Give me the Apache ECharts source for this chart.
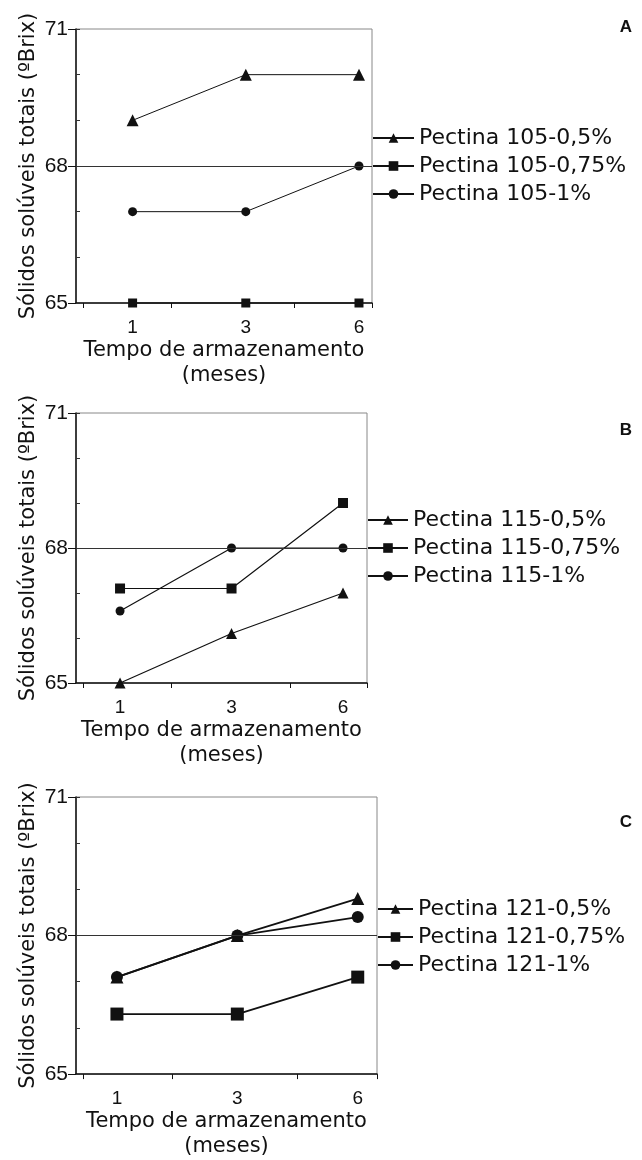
<!DOCTYPE html>
<html>
<head>
<meta charset="utf-8">
<script src="https://cdn.jsdelivr.net/npm/echarts@6/dist/echarts.min.js"></script>
<style>
html, body { margin: 0; padding: 0; background: #fff; }
#chart { width: 642px; height: 1160px; }
</style>
</head>
<body>
<div id="chart"></div>
<script>
// tempo de armazenamento (meses)
var meses = ['1', '3', '6'];
var yTickLabels = [65, 68, 71];
var yName = 'Sólidos solúveis totais (ºBrix)';
var xName = 'Tempo de armazenamento\n(meses)';

// A - pectina 105
var namesA = ['Pectina 105-0,5%', 'Pectina 105-0,75%', 'Pectina 105-1%'];
var a05 = [69.0, 70.0, 70.0];
var a075 = [65.0, 65.0, 65.0];
var a1 = [67.0, 67.0, 68.0];

// B - pectina 115
var namesB = ['Pectina 115-0,5%', 'Pectina 115-0,75%', 'Pectina 115-1%'];
var b05 = [65.0, 66.1, 67.0];
var b075 = [67.1, 67.1, 69.0];
var b1 = [66.6, 68.0, 68.0];

// C - pectina 121
var namesC = ['Pectina 121-0,5%', 'Pectina 121-0,75%', 'Pectina 121-1%'];
var c05 = [67.1, 68.0, 68.8];
var c075 = [66.3, 66.3, 67.1];
var c1 = [67.1, 68.0, 68.4];

var simbolos = ['triangle', 'rect', 'circle'];

// layout de cada painel
var paineis = [
    { letra: 'A', nomes: namesA, valores: [a05, a075, a1],
      grid: { left: 76, top: 29, width: 296, height: 274 },
      xMin: -0.5, xMax: 2.115, xTicks: [-0.434, 0.345, 1.425, 2.115],
      legTop: 127, legW: 41, lw: 1, sizes: [12, 9, 9], letraTop: 19 },
    { letra: 'B', nomes: namesB, valores: [b05, b075, b1],
      grid: { left: 76, top: 413, width: 291, height: 270 },
      xMin: -0.395, xMax: 2.215, xTicks: [-0.33, 0.457, 1.53, 2.215],
      legTop: 509, legW: 40, lw: 1.2, sizes: [11, 10, 9], letraTop: 422 },
    { letra: 'C', nomes: namesC, valores: [c05, c075, c1],
      grid: { left: 76, top: 797, width: 301, height: 278 },
      xMin: -0.34, xMax: 2.16, xTicks: [-0.28, 0.46, 1.5, 2.16],
      legTop: 898, legW: 35, lw: 1.8, sizes: [13, 13, 12], letraTop: 814 }
];

var fonte = 'DejaVu Sans';
var fonteNum = "'Liberation Sans', Arial, sans-serif";
var option = {
    animation: false,
    backgroundColor: '#fff',
    title: [], grid: [], xAxis: [], yAxis: [], legend: [], series: []
};

paineis.forEach(function (p, i) {
    option.title.push({
        text: p.letra, left: 626, top: p.letraTop, textAlign: 'center', padding: 0,
        textStyle: { fontFamily: fonteNum, fontWeight: 'bold', fontSize: 17, color: '#111' }
    });
    option.grid.push({
        left: p.grid.left, top: p.grid.top, width: p.grid.width, height: p.grid.height,
        show: true, borderColor: '#888', borderWidth: 1, backgroundColor: 'transparent'
    });
    option.xAxis.push({
        type: 'value', gridIndex: i, min: p.xMin, max: p.xMax,
        name: xName, nameLocation: 'middle', nameGap: 32,
        nameTextStyle: { fontFamily: fonte, fontSize: 21, lineHeight: 25, color: '#111' },
        axisLine: { onZero: false, lineStyle: { color: '#111', width: 1.5 } },
        axisTick: { customValues: p.xTicks, length: 5, lineStyle: { color: '#111' } },
        axisLabel: {
            customValues: [0, 1, 2], margin: 15,
            fontFamily: fonteNum, fontSize: 19, color: '#111',
            formatter: function (v) { return meses[Math.round(v)]; }
        },
        splitLine: { show: false }
    });
    // eixo com marcas internas
    option.yAxis.push({
        type: 'value', gridIndex: i, min: 65, max: 71, interval: 1,
        position: 'left', offset: 0,
        name: yName, nameLocation: 'middle', nameGap: 37,
        nameTextStyle: { fontFamily: fonte, fontSize: 21, color: '#111' },
        axisLine: { show: true, onZero: false, lineStyle: { color: '#111', width: 1.5 } },
        axisTick: { inside: true, length: 4, lineStyle: { color: '#333' } },
        axisLabel: { show: false },
        splitLine: { show: false }
    });
    // eixo com rotulos
    option.yAxis.push({
        type: 'value', gridIndex: i, min: 65, max: 71,
        position: 'left', offset: 0,
        axisLine: { show: false, onZero: false },
        axisTick: { show: true, customValues: yTickLabels, length: 8, lineStyle: { color: '#111' } },
        axisLabel: {
            customValues: yTickLabels, margin: 8,
            fontFamily: fonteNum, fontSize: 21, color: '#111'
        },
        splitLine: { show: false }
    });
    option.legend.push({
        orient: 'vertical', left: p.grid.left + p.grid.width, top: p.legTop,
        padding: 0, itemGap: 6, itemWidth: p.legW, itemHeight: 12,
        selectedMode: false, data: p.nomes,
        textStyle: { fontFamily: fonte, fontSize: 22, lineHeight: 22, color: '#111' }
    });
    p.valores.forEach(function (vals, k) {
        var s = {
            name: p.nomes[k], type: 'line',
            xAxisIndex: i, yAxisIndex: 2 * i,
            symbol: simbolos[k], symbolSize: p.sizes[k],
            clip: false, z: 3,
            lineStyle: { color: '#111', width: p.lw },
            itemStyle: { color: '#111' },
            data: vals.map(function (v, j) { return [j, v]; })
        };
        if (k === 0) {
            s.markLine = {
                silent: true, symbol: ['none', 'none'], label: { show: false },
                lineStyle: { color: '#333', width: 1, type: 'solid' },
                emphasis: { disabled: true },
                data: [{ yAxis: 68 }]
            };
        }
        option.series.push(s);
    });
});

var chart = echarts.init(document.getElementById('chart'));
chart.setOption(option);
</script>
</body>
</html>
